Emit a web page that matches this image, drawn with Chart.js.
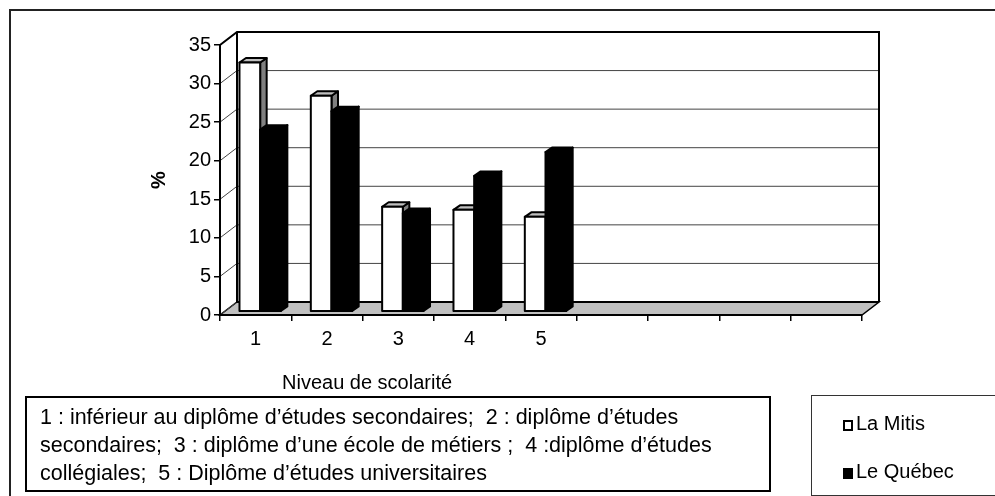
<!DOCTYPE html>
<html>
<head>
<meta charset="utf-8">
<title>Niveau de scolarité</title>
<script src="https://cdn.jsdelivr.net/npm/chart.js@4.4.1/dist/chart.umd.min.js"></script>
<style>
    body { margin: 0; background: #fff; font-family: "Liberation Sans", Arial, sans-serif; color: #000; }
    #wrap { position: relative; width: 995px; height: 496px; overflow: hidden; }
    canvas { position: absolute; left: 0; top: 0; }
    .box { position: absolute; white-space: nowrap; box-sizing: border-box; }
    #xtitle { left: 282px; top: 370px; font-size: 20px; line-height: 24px; }
    #notes { left: 25px; top: 396px; width: 746px; height: 96px; border: 2px solid #000; padding: 5px 0 0 13px; font-size: 21.5px; line-height: 28px; }
    #legend { left: 811px; top: 395px; width: 200px; height: 101px; border: 1.5px solid #333; }
    .item { position: absolute; left: 31px; font-size: 20px; line-height: 24px; }
    .swatch { display: inline-block; width: 10px; height: 11px; box-sizing: border-box; border: 2px solid #000; margin-right: 3px; vertical-align: -1px; }
</style>
</head>
<body>
<div id="wrap">
    <canvas id="chart" width="995" height="496"></canvas>
    <div id="xtitle" class="box"></div>
    <div id="notes" class="box"></div>
    <div id="legend" class="box"></div>
</div>
<script>
// data
const categories = ['1', '2', '3', '4', '5', '', '', '', ''];
const laMitis = [32.3, 28.0, 13.6, 13.2, 12.3, null, null, null, null];
const leQuebec = [23.6, 26.0, 12.8, 17.6, 20.7, null, null, null, null];
const yTicks = [0, 5, 10, 15, 20, 25, 30, 35];
const seriesNames = ['La Mitis', 'Le Québec'];
const xTitle = 'Niveau de scolarité';
const yTitle = '%';
const notes = [
    '1 : inférieur au diplôme d’études secondaires;\u00a0 2 : diplôme d’études',
    'secondaires;\u00a0 3 : diplôme d’une école de métiers ;\u00a0 4 :diplôme d’études',
    'collégiales;\u00a0 5 : Diplôme d’études universitaires'
];

// fake 3d depth
const WALL_DX = 17, WALL_DY = -13;
const BAR_OX = 4.5, BAR_OY = -3.3, BAR_DX = 6.5, BAR_DY = -4.5;
const faces = [
    {front: '#ffffff', top: '#c0c0c0', side: '#808080'},
    {front: '#000000', top: '#000000', side: '#000000'}
];

function poly(ctx, pts) {
    ctx.beginPath();
    ctx.moveTo(pts[0][0], pts[0][1]);
    for (let i = 1; i < pts.length; i++) ctx.lineTo(pts[i][0], pts[i][1]);
    ctx.closePath();
}

const walls3d = {
    id: 'walls3d',
    beforeDraw(chart) {
        const ctx = chart.ctx;
        const {left, right, top, bottom} = chart.chartArea;
        const y = chart.scales.y;
        ctx.save();
        ctx.fillStyle = '#fff';
        ctx.fillRect(0, 0, chart.width, chart.height);

        // outer frame (top and left only)
        ctx.strokeStyle = '#222';
        ctx.lineWidth = 2;
        ctx.beginPath();
        ctx.moveTo(10, chart.height);
        ctx.lineTo(10, 10);
        ctx.lineTo(chart.width, 10);
        ctx.stroke();

        // floor
        ctx.fillStyle = '#c0c0c0';
        poly(ctx, [[left, bottom], [right, bottom], [right + WALL_DX, bottom + WALL_DY], [left + WALL_DX, bottom + WALL_DY]]);
        ctx.fill();
        ctx.strokeStyle = '#000';
        ctx.lineWidth = 1.5;
        ctx.stroke();

        // grid lines on side wall and back wall
        ctx.strokeStyle = '#444';
        ctx.lineWidth = 1;
        yTicks.forEach(v => {
            const py = y.getPixelForValue(v);
            ctx.beginPath();
            ctx.moveTo(left, py);
            ctx.lineTo(left + WALL_DX, py + WALL_DY);
            if (v > 0) ctx.lineTo(right + WALL_DX, py + WALL_DY);
            ctx.stroke();
        });

        // wall edges
        ctx.strokeStyle = '#000';
        ctx.lineWidth = 2;
        ctx.beginPath();
        ctx.moveTo(left, top);
        ctx.lineTo(left + WALL_DX, top + WALL_DY);
        ctx.lineTo(right + WALL_DX, top + WALL_DY);
        ctx.lineTo(right + WALL_DX, bottom + WALL_DY);
        ctx.moveTo(left + WALL_DX, top + WALL_DY);
        ctx.lineTo(left + WALL_DX, bottom + WALL_DY);
        ctx.lineTo(right + WALL_DX, bottom + WALL_DY);
        ctx.stroke();
        ctx.restore();
    },
    beforeDatasetsDraw(chart) {
        const ctx = chart.ctx;
        ctx.save();
        ctx.lineWidth = 2;
        ctx.lineJoin = 'round';
        ctx.strokeStyle = '#000';
        categories.forEach((c, i) => {
            chart.data.datasets.forEach((ds, d) => {
                if (ds.data[i] == null) return;
                const el = chart.getDatasetMeta(d).data[i];
                const {x, y, base, width} = el.getProps(['x', 'y', 'base', 'width'], true);
                const x0 = x - width / 2 + BAR_OX, x1 = x + width / 2 + BAR_OX;
                const yt = y + BAR_OY, yb = base + BAR_OY;
                const f = faces[d];
                // side
                poly(ctx, [[x1, yt], [x1 + BAR_DX, yt + BAR_DY], [x1 + BAR_DX, yb + BAR_DY], [x1, yb]]);
                ctx.fillStyle = f.side; ctx.fill(); ctx.stroke();
                // top
                poly(ctx, [[x0, yt], [x1, yt], [x1 + BAR_DX, yt + BAR_DY], [x0 + BAR_DX, yt + BAR_DY]]);
                ctx.fillStyle = f.top; ctx.fill(); ctx.stroke();
                // front
                poly(ctx, [[x0, yt], [x1, yt], [x1, yb], [x0, yb]]);
                ctx.fillStyle = f.front; ctx.fill(); ctx.stroke();
            });
        });
        ctx.restore();
        return false;
    }
};

Chart.defaults.font.family = '"Liberation Sans", Arial, sans-serif';
Chart.defaults.font.size = 20;
Chart.defaults.color = '#000';

new Chart(document.getElementById('chart'), {
    type: 'bar',
    data: {
        labels: categories,
        datasets: [
            {label: seriesNames[0], data: laMitis, backgroundColor: faces[0].front, borderColor: '#000', borderWidth: 2, categoryPercentage: 0.58, barPercentage: 1},
            {label: seriesNames[1], data: leQuebec, backgroundColor: faces[1].front, borderColor: '#000', borderWidth: 2, categoryPercentage: 0.58, barPercentage: 1}
        ]
    },
    options: {
        responsive: false,
        animation: false,
        layout: {padding: {left: 147, top: 45, right: 133, bottom: 141}},
        plugins: {legend: {display: false}, tooltip: {enabled: false}},
        scales: {
            x: {
                grid: {drawOnChartArea: false, tickLength: 6, color: '#000', lineWidth: 1.5},
                border: {color: '#000', width: 2},
                ticks: {padding: 6, maxRotation: 0, autoSkip: false},
                afterFit: s => { s.height = 40; }
            },
            y: {
                min: 0,
                max: 35,
                afterBuildTicks: s => { s.ticks = yTicks.map(v => ({value: v})); },
                ticks: {padding: 3},
                grid: {drawOnChartArea: false, tickLength: 6, color: '#000', lineWidth: 1.5},
                border: {color: '#000', width: 2},
                title: {display: true, text: yTitle, font: {size: 20, weight: 'bold'}, padding: 0},
                afterFit: s => { s.width = 73; }
            }
        }
    },
    plugins: [walls3d]
});

// html texts: axis title, notes box and legend
document.getElementById('xtitle').textContent = xTitle;
document.getElementById('notes').innerHTML = notes.join('<br>');
const legend = document.getElementById('legend');
seriesNames.forEach((name, d) => {
    const item = document.createElement('div');
    item.className = 'item';
    item.style.top = (15 + d * 48) + 'px';
    const sw = document.createElement('span');
    sw.className = 'swatch';
    sw.style.background = faces[d].front;
    item.appendChild(sw);
    item.appendChild(document.createTextNode(name));
    legend.appendChild(item);
});
</script>
</body>
</html>
